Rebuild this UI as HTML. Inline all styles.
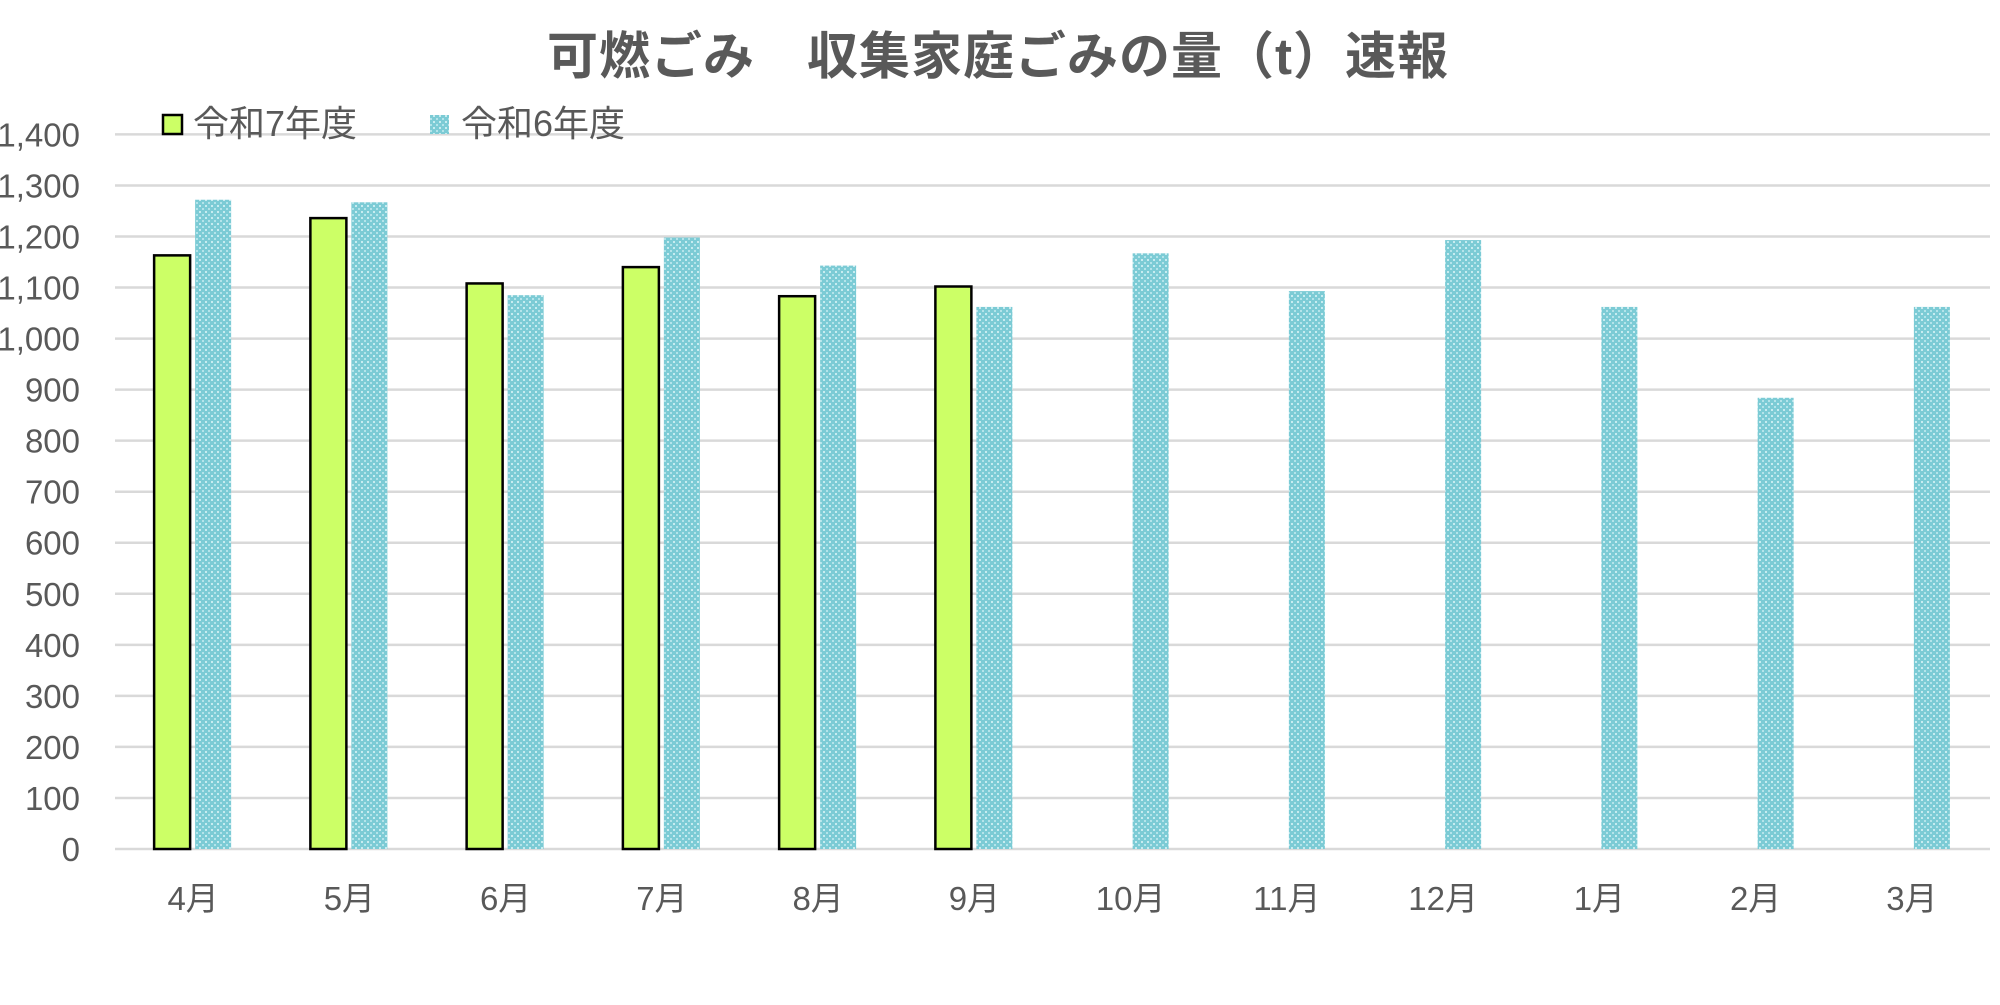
<!DOCTYPE html>
<html><head><meta charset="utf-8"><style>
html,body{margin:0;padding:0;background:#fff;}
svg{display:block;}
text{font-family:"Liberation Sans","Noto Sans CJK JP",sans-serif;fill:#595959;}
</style></head><body>
<svg width="2000" height="1005" viewBox="0 0 2000 1005" xmlns="http://www.w3.org/2000/svg">
<defs>
<pattern id="p" width="6" height="6" patternUnits="userSpaceOnUse">
<rect width="6" height="6" fill="#7ccbd5"/>
<rect x="1" y="1" width="2" height="2" fill="#c8ecf0"/>
<rect x="4" y="4" width="2" height="2" fill="#b4e4ea"/>
</pattern>
</defs>
<text x="998" y="74" font-size="51" font-weight="bold" text-anchor="middle" letter-spacing="1">可燃ごみ　収集家庭ごみの量（t）速報</text>
<g stroke="#d9d9d9" stroke-width="2.5" id="grid"></g>
<g id="ylab"></g>
<g id="bars"></g>
<g id="xlab"></g>
<rect x="163" y="115" width="19" height="19" fill="#ccff66" stroke="#000" stroke-width="2.5"/>
<text x="193" y="136" font-size="36">令和7年度</text>
<rect x="430" y="115" width="19" height="19" fill="url(#p)"/>
<text x="461" y="136" font-size="36">令和6年度</text>
<script>
var ns="http://www.w3.org/2000/svg";
function el(t,a,p,txt){var e=document.createElementNS(ns,t);for(var k in a)e.setAttribute(k,a[k]);if(txt!==undefined)e.textContent=txt;document.getElementById(p).appendChild(e);}
var y0=849,s=(849-134.4)/1400;
for(var i=0;i<=14;i++){var y=y0-i*100*s;
el('line',{x1:115,x2:1990,y1:y,y2:y},'grid');
el('text',{x:80,y:y+12,'text-anchor':'end','font-size':33},'ylab',i==0?'0':(i*100).toLocaleString('en-US'));}
var g=[1163,1236,1108,1140,1083,1102];
var b=[1272,1267,1085,1198,1143,1062,1167,1093,1193,1062,884,1062];
var m=['4月','5月','6月','7月','8月','9月','10月','11月','12月','1月','2月','3月'];
var cw=(1990-115)/12;
for(var i=0;i<12;i++){var c=115+cw*(i+0.5);
if(i<6){var h=g[i]*s;el('rect',{x:c-39,y:y0-h,width:36,height:h,fill:'#ccff66',stroke:'#000','stroke-width':2.5},'bars');}
var hb=b[i]*s;el('rect',{x:c+2,y:y0-hb,width:36,height:hb,fill:'url(#p)'},'bars');
el('text',{x:c,y:910,'text-anchor':'middle','font-size':33},'xlab',m[i]);}
</script>
</svg>
</body></html>
